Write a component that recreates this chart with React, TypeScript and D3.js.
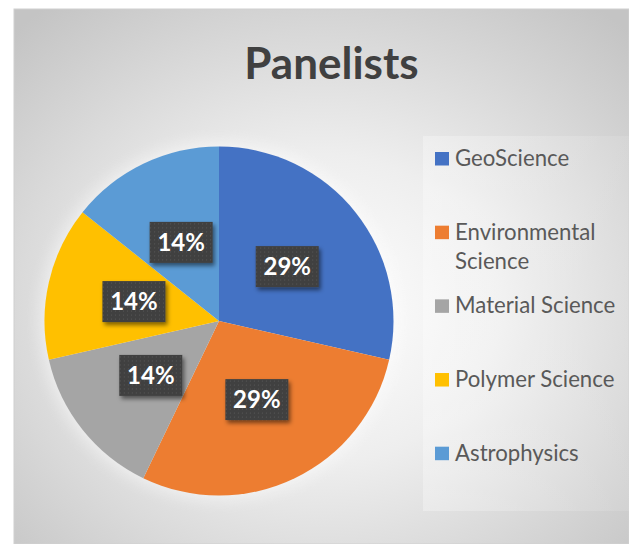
import React from "react";
import * as d3 from "d3";

const categories = ["GeoScience", "Environmental Science", "Material Science", "Polymer Science", "Astrophysics"];
const legendLines = [["GeoScience"], ["Environmental", "Science"], ["Material Science"], ["Polymer Science"], ["Astrophysics"]];
const values = [2, 2, 1, 1, 1];
const colors = ["#4472C4", "#ED7D31", "#A5A5A5", "#FFC000", "#5B9BD5"];
const title = "Panelists";

const W = 629;
const H = 544;

export default function App() {
  const cx = 219;
  const cy = 321;
  const R = 174.5;
  const total = d3.sum(values);
  const pie = d3.pie<number>().sort(null).value((d) => d)(values);
  const arc = d3.arc<d3.PieArcDatum<number>>().innerRadius(0).outerRadius(R);
  const fmt = d3.format(".0%");

  const legendY = d3.scaleLinear().domain([0, 4]).range([166, 460.7]);

  return (
    <svg width={W} height={H} style={{ position: "absolute", left: 0, top: 0, display: "block" }}>
      <defs>
        <radialGradient id="bg" cx="50%" cy="56%" r="72%">
          <stop offset="0" stopColor="#ffffff" />
          <stop offset="0.4" stopColor="#eeeeee" />
          <stop offset="1" stopColor="#c4c4c4" />
        </radialGradient>
        <linearGradient id="lg" x1="0" y1="0" x2="1" y2="0">
          <stop offset="0" stopColor="#ffffff" stopOpacity="0.3" />
          <stop offset="1" stopColor="#ffffff" stopOpacity="0.1" />
        </linearGradient>
        <pattern id="dots" width="4" height="4" patternUnits="userSpaceOnUse">
          <rect width="4" height="4" fill="#404040" />
          <rect x="1" y="1" width="1" height="1" fill="#5a5a5a" />
        </pattern>
        <filter id="shadow" x="-30%" y="-30%" width="160%" height="160%">
          <feDropShadow dx="2" dy="3" stdDeviation="2" floodColor="#000" floodOpacity="0.5" />
        </filter>
        <filter id="glow" x="-20%" y="-20%" width="140%" height="140%">
          <feGaussianBlur stdDeviation="8" />
        </filter>
      </defs>
      <rect x={14} y={9} width={W - 14} height={H - 9} fill="url(#bg)" stroke="#d0d0d0" strokeWidth={1} />
      <rect x={423} y={136} width={W - 423} height={375} fill="url(#lg)" />
      <text x={331.5} y={79} textAnchor="middle" fontFamily="Lato, 'Open Sans', sans-serif" fontWeight={700} fontSize={44} fill="#404040">
        {title}
      </text>
      <circle cx={cx} cy={cy} r={R + 4} fill="#ffffff" opacity={0.5} filter="url(#glow)" />
      <g transform={`translate(${cx},${cy})`}>
        {pie.map((p, i) => (
          <path key={categories[i]} d={arc(p) || ""} fill={colors[i]} />
        ))}
        {pie.map((p, i) => {
          const [x, y] = arc.centroid(p);
          const w = 63;
          const h = 41;
          return (
            <g key={"l" + i} transform={`translate(${x},${y})`}>
              <rect x={-w / 2} y={-h / 2} width={w} height={h} fill="url(#dots)" filter="url(#shadow)" />
              <text x={0} y={8.5} textAnchor="middle" fontFamily="Lato, 'Open Sans', sans-serif" fontWeight={700} fontSize={24} fill="#ffffff">
                {fmt(values[i] / total)}
              </text>
            </g>
          );
        })}
      </g>
      {legendLines.map((lines, i) => {
        const by = legendY(i);
        return (
          <g key={"lg" + i}>
            <rect x={435} y={by - 14} width={14} height={13.5} fill={colors[i]} />
            <text fontFamily="Lato, 'Open Sans', sans-serif" fontSize={22.2} fill="#595959">
              {lines.map((t, j) => (
                <tspan key={j} x={455} y={by + j * 29}>
                  {t}
                </tspan>
              ))}
            </text>
          </g>
        );
      })}
    </svg>
  );
}
